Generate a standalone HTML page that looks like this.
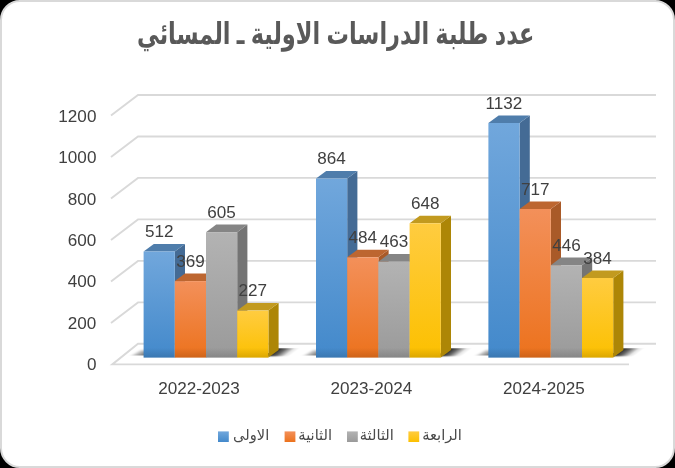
<!DOCTYPE html>
<html lang="ar"><head><meta charset="utf-8"><title>chart</title>
<style>
html,body{margin:0;padding:0;background:#000;}
svg{display:block;}
.n{font-family:"Liberation Sans","DejaVu Sans",sans-serif;font-size:17.1px;fill:#404040;}
.t{font-family:"Liberation Sans","DejaVu Sans",sans-serif;font-weight:bold;fill:#595959;}
.l{font-family:"Liberation Sans","DejaVu Sans",sans-serif;fill:#4a4a4a;}
</style></head><body>
<svg width="675" height="468" viewBox="0 0 675 468">
<defs>
<linearGradient id="g0" x1="0" y1="0" x2="0" y2="1"><stop offset="0" stop-color="#71a7dc"/><stop offset="1" stop-color="#4389cb"/></linearGradient>
<linearGradient id="g1" x1="0" y1="0" x2="0" y2="1"><stop offset="0" stop-color="#f3905a"/><stop offset="1" stop-color="#ec721d"/></linearGradient>
<linearGradient id="g2" x1="0" y1="0" x2="0" y2="1"><stop offset="0" stop-color="#b3b3b3"/><stop offset="1" stop-color="#9a9a9a"/></linearGradient>
<linearGradient id="g3" x1="0" y1="0" x2="0" y2="1"><stop offset="0" stop-color="#ffcc40"/><stop offset="1" stop-color="#fcc000"/></linearGradient>
<linearGradient id="dk" x1="0" y1="0" x2="0" y2="1"><stop offset="0" stop-color="#000" stop-opacity="0"/><stop offset="1" stop-color="#000" stop-opacity="0.13"/></linearGradient>
<linearGradient id="sr" x1="0" y1="0" x2="1" y2="0"><stop offset="0" stop-color="#000" stop-opacity="0.8"/><stop offset="0.25" stop-color="#000" stop-opacity="0.78"/><stop offset="0.45" stop-color="#000" stop-opacity="0.6"/><stop offset="0.8" stop-color="#000" stop-opacity="0.1"/><stop offset="1" stop-color="#000" stop-opacity="0"/></linearGradient>
<linearGradient id="sl" x1="1" y1="0.9" x2="0.15" y2="0.3"><stop offset="0" stop-color="#000" stop-opacity="0.7"/><stop offset="0.4" stop-color="#000" stop-opacity="0.42"/><stop offset="1" stop-color="#000" stop-opacity="0"/></linearGradient>
<clipPath id="cp"><rect x="0" y="348.2" width="675" height="20"/></clipPath><clipPath id="cp2"><rect x="0" y="340" width="675" height="15.4"/></clipPath><filter id="bl" x="-20%" y="-50%" width="140%" height="200%"><feGaussianBlur stdDeviation="0.7"/></filter><filter id="bl2" x="-30%" y="-50%" width="160%" height="200%"><feGaussianBlur stdDeviation="1.1"/></filter>
</defs>
<rect x="0" y="0" width="675" height="468" fill="#000"/>
<rect x="1" y="1" width="673" height="466" rx="19" ry="19" fill="#fff" stroke="#d9d9d9" stroke-width="2"/>
<text class="t" transform="translate(335.7,44.2) scale(0.748,1)" x="0" y="0" font-size="30" text-anchor="middle" direction="rtl" id="title">عدد طلبة الدراسات الاولية ـ المسائي</text>
<g fill="none" stroke="#d9d9d9" stroke-width="1.9">
<polyline points="111,115.6 138,95.0 656,95.0"/>
<polyline points="111,157.1 138,136.5 656,136.5"/>
<polyline points="111,198.5 138,177.9 656,177.9"/>
<polyline points="111,240.0 138,219.4 656,219.4"/>
<polyline points="111,281.5 138,260.9 656,260.9"/>
<polyline points="111,323.0 138,302.4 656,302.4"/>
<polyline points="629,364.4 112.3,364.4 138,343.8 656,343.8"/>
</g>
<text class="n" x="96.4" y="122.0" text-anchor="end">1200</text>
<text class="n" x="96.4" y="163.3" text-anchor="end">1000</text>
<text class="n" x="96.4" y="204.6" text-anchor="end">800</text>
<text class="n" x="96.4" y="245.9" text-anchor="end">600</text>
<text class="n" x="96.4" y="287.2" text-anchor="end">400</text>
<text class="n" x="96.4" y="328.5" text-anchor="end">200</text>
<text class="n" x="96.4" y="369.8" text-anchor="end">0</text>
<g clip-path="url(#cp)"><rect filter="url(#bl)" fill="url(#sr)" transform="matrix(1 0 -1.3421 1 268.4 357.6)" x="-6" y="-10.2" width="25" height="8.9"/></g>
<g clip-path="url(#cp2)"><polygon filter="url(#bl2)" fill="url(#sl)" points="146.6,357.6 146.6,350.3 140.6,350.3 128.6,357.6"/></g>
<g clip-path="url(#cp)"><rect filter="url(#bl)" fill="url(#sr)" transform="matrix(1 0 -1.3421 1 440.8 357.6)" x="-6" y="-10.2" width="25" height="8.9"/></g>
<g clip-path="url(#cp2)"><polygon filter="url(#bl2)" fill="url(#sl)" points="319.0,357.6 319.0,350.3 313.0,350.3 301.0,357.6"/></g>
<g clip-path="url(#cp)"><rect filter="url(#bl)" fill="url(#sr)" transform="matrix(1 0 -1.3421 1 613.2 357.6)" x="-6" y="-10.2" width="25" height="8.9"/></g>
<g clip-path="url(#cp2)"><polygon filter="url(#bl2)" fill="url(#sl)" points="491.4,357.6 491.4,350.3 485.4,350.3 473.4,357.6"/></g>
<polygon fill="#446b95" points="174.8,251.5 185.0,243.9 185.0,350.0 174.8,357.6"/>
<polygon fill="#4f7dab" points="143.6,251.5 153.8,243.9 185.0,243.9 174.8,251.5"/>
<rect fill="url(#g0)" x="143.6" y="251.5" width="31.2" height="106.1"/>
<rect fill="url(#dk)" x="143.6" y="347.6" width="31.2" height="10"/>
<polygon fill="#a95a28" points="206.0,281.1 216.2,273.5 216.2,350.0 206.0,357.6"/>
<polygon fill="#bd6630" points="174.8,281.1 185.0,273.5 216.2,273.5 206.0,281.1"/>
<rect fill="url(#g1)" x="174.8" y="281.1" width="31.2" height="76.5"/>
<rect fill="url(#dk)" x="174.8" y="347.6" width="31.2" height="10"/>
<polygon fill="#747474" points="237.2,232.2 247.4,224.6 247.4,350.0 237.2,357.6"/>
<polygon fill="#858585" points="206.0,232.2 216.2,224.6 247.4,224.6 237.2,232.2"/>
<rect fill="url(#g2)" x="206.0" y="232.2" width="31.2" height="125.4"/>
<rect fill="url(#dk)" x="206.0" y="347.6" width="31.2" height="10"/>
<polygon fill="#ad8606" points="268.4,310.6 278.6,303.0 278.6,350.0 268.4,357.6"/>
<polygon fill="#c29a1f" points="237.2,310.6 247.4,303.0 278.6,303.0 268.4,310.6"/>
<rect fill="url(#g3)" x="237.2" y="310.6" width="31.2" height="47.0"/>
<rect fill="url(#dk)" x="237.2" y="347.6" width="31.2" height="10"/>
<polygon fill="#446b95" points="347.2,178.6 357.4,171.0 357.4,350.0 347.2,357.6"/>
<polygon fill="#4f7dab" points="316.0,178.6 326.2,171.0 357.4,171.0 347.2,178.6"/>
<rect fill="url(#g0)" x="316.0" y="178.6" width="31.2" height="179.0"/>
<rect fill="url(#dk)" x="316.0" y="347.6" width="31.2" height="10"/>
<polygon fill="#a95a28" points="378.4,257.3 388.6,249.7 388.6,350.0 378.4,357.6"/>
<polygon fill="#bd6630" points="347.2,257.3 357.4,249.7 388.6,249.7 378.4,257.3"/>
<rect fill="url(#g1)" x="347.2" y="257.3" width="31.2" height="100.3"/>
<rect fill="url(#dk)" x="347.2" y="347.6" width="31.2" height="10"/>
<polygon fill="#747474" points="409.6,261.7 419.8,254.1 419.8,350.0 409.6,357.6"/>
<polygon fill="#858585" points="378.4,261.7 388.6,254.1 419.8,254.1 409.6,261.7"/>
<rect fill="url(#g2)" x="378.4" y="261.7" width="31.2" height="95.9"/>
<rect fill="url(#dk)" x="378.4" y="347.6" width="31.2" height="10"/>
<polygon fill="#ad8606" points="440.8,223.3 451.0,215.7 451.0,350.0 440.8,357.6"/>
<polygon fill="#c29a1f" points="409.6,223.3 419.8,215.7 451.0,215.7 440.8,223.3"/>
<rect fill="url(#g3)" x="409.6" y="223.3" width="31.2" height="134.3"/>
<rect fill="url(#dk)" x="409.6" y="347.6" width="31.2" height="10"/>
<polygon fill="#446b95" points="519.6,123.0 529.8,115.4 529.8,350.0 519.6,357.6"/>
<polygon fill="#4f7dab" points="488.4,123.0 498.6,115.4 529.8,115.4 519.6,123.0"/>
<rect fill="url(#g0)" x="488.4" y="123.0" width="31.2" height="234.6"/>
<rect fill="url(#dk)" x="488.4" y="347.6" width="31.2" height="10"/>
<polygon fill="#a95a28" points="550.8,209.0 561.0,201.4 561.0,350.0 550.8,357.6"/>
<polygon fill="#bd6630" points="519.6,209.0 529.8,201.4 561.0,201.4 550.8,209.0"/>
<rect fill="url(#g1)" x="519.6" y="209.0" width="31.2" height="148.6"/>
<rect fill="url(#dk)" x="519.6" y="347.6" width="31.2" height="10"/>
<polygon fill="#747474" points="582.0,265.2 592.2,257.6 592.2,350.0 582.0,357.6"/>
<polygon fill="#858585" points="550.8,265.2 561.0,257.6 592.2,257.6 582.0,265.2"/>
<rect fill="url(#g2)" x="550.8" y="265.2" width="31.2" height="92.4"/>
<rect fill="url(#dk)" x="550.8" y="347.6" width="31.2" height="10"/>
<polygon fill="#ad8606" points="613.2,278.0 623.4,270.4 623.4,350.0 613.2,357.6"/>
<polygon fill="#c29a1f" points="582.0,278.0 592.2,270.4 623.4,270.4 613.2,278.0"/>
<rect fill="url(#g3)" x="582.0" y="278.0" width="31.2" height="79.6"/>
<rect fill="url(#dk)" x="582.0" y="347.6" width="31.2" height="10"/>
<text class="n" x="159.2" y="237.1" text-anchor="middle">512</text>
<text class="n" x="190.4" y="266.7" text-anchor="middle">369</text>
<text class="n" x="221.6" y="217.8" text-anchor="middle">605</text>
<text class="n" x="252.8" y="296.2" text-anchor="middle">227</text>
<text class="n" x="331.6" y="164.2" text-anchor="middle">864</text>
<text class="n" x="362.8" y="242.9" text-anchor="middle">484</text>
<text class="n" x="394.0" y="247.3" text-anchor="middle">463</text>
<text class="n" x="425.2" y="208.9" text-anchor="middle">648</text>
<text class="n" x="504.0" y="108.6" text-anchor="middle">1132</text>
<text class="n" x="535.2" y="194.6" text-anchor="middle">717</text>
<text class="n" x="566.4" y="250.8" text-anchor="middle">446</text>
<text class="n" x="597.6" y="263.6" text-anchor="middle">384</text>
<text class="n" x="199.0" y="393.8" text-anchor="middle">2022-2023</text>
<text class="n" x="371.4" y="393.8" text-anchor="middle">2023-2024</text>
<text class="n" x="543.8" y="393.8" text-anchor="middle">2024-2025</text>
<rect x="218" y="431.4" width="10.8" height="10.6" fill="url(#g0)"/>
<text class="l" x="251.2" y="440.3" font-size="14.67" text-anchor="middle" direction="rtl" id="lg0">الاولى</text>
<rect x="284.6" y="431.4" width="10.8" height="10.6" fill="url(#g1)"/>
<text class="l" x="315.2" y="440.3" font-size="14.67" text-anchor="middle" direction="rtl" id="lg1">الثانية</text>
<rect x="347" y="431.4" width="10.8" height="10.6" fill="url(#g2)"/>
<text class="l" x="376.8" y="440.3" font-size="14.67" text-anchor="middle" direction="rtl" id="lg2">الثالثة</text>
<rect x="408.4" y="431.4" width="10.8" height="10.6" fill="url(#g3)"/>
<text class="l" x="442.0" y="440.3" font-size="14.67" text-anchor="middle" direction="rtl" id="lg3">الرابعة</text>
</svg>
</body></html>
